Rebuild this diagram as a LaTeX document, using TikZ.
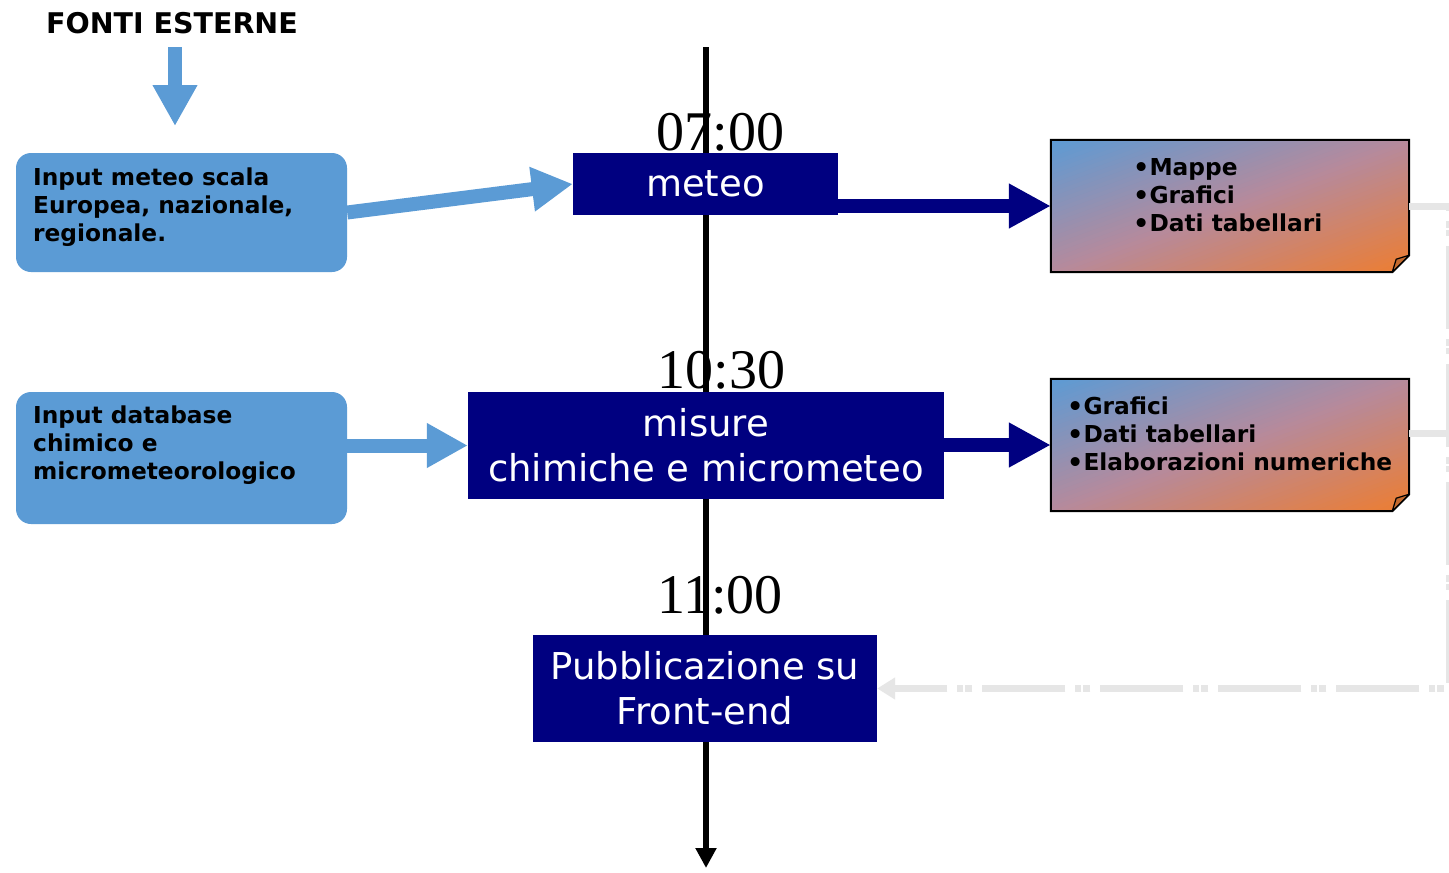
\documentclass[tikz,border=0pt]{standalone}
\usepackage{fontspec}
\setmainfont{DejaVu Sans}
\newfontfamily\timefont{Liberation Serif}
\usetikzlibrary{arrows.meta,calc}
\definecolor{lblue}{HTML}{5B9BD5}
\definecolor{navy}{HTML}{000080}
\definecolor{orng}{HTML}{ED7D31}
\definecolor{mauve}{HTML}{B68A9C}
\definecolor{lgray}{HTML}{E6E6E6}
\definecolor{fold}{HTML}{C46A2E}
\newcommand\bul{\raisebox{-1pt}{\fontsize{25.5}{28}\selectfont•}}
\begin{document}
\begin{tikzpicture}[x=1pt,y=-1pt,
  inbox/.style={fill=lblue, rounded corners=15pt, inner sep=0pt, draw=none},
  intext/.style={anchor=north west, align=left, inner sep=0pt, font=\bfseries\fontsize{23.3}{28}\selectfont},
  navybox/.style={fill=navy, text=white, inner sep=0pt, align=center, font=\fontsize{37}{45}\selectfont},
  timelbl/.style={anchor=base, inner sep=0pt, font=\timefont\fontsize{56}{60}\selectfont},
  notebox/.style={inner sep=0pt, minimum width=358pt, minimum height=132pt},
  notetext/.style={anchor=north west, align=left, inner sep=0pt, font=\bfseries\fontsize{23.3}{28}\selectfont},
  blockblue/.style={draw=lblue, line width=14pt, -{Triangle[width=42pt,length=41pt]}},
  blocknavy/.style={draw=navy, line width=14pt, -{Triangle[width=42pt,length=42pt]}},
  feedback/.style={draw=lgray, line width=7pt, dash pattern=on 83pt off 10pt on 7pt off 2pt on 6pt off 10pt, dash phase=38pt},
]
\useasboundingbox[fill=white] (0,0) rectangle (1449,873);

% title and entry arrow
\node[anchor=base, inner sep=0pt, font=\bfseries\fontsize{28.5}{32}\selectfont] (title) at (172,33) {FONTI ESTERNE};
\coordinate (srcA) at (175,47);
\coordinate (srcB) at (175,126);
\draw[blockblue] (srcA) -- (srcB);

% input boxes
\node[inbox, minimum width=331pt, minimum height=119pt] (b1) at (181.5,212.5) {};
\node[intext] (b1t) at (33,167.5) {Input meteo scala\\Europea, nazionale,\\regionale.};
\node[inbox, minimum width=331pt, minimum height=132pt] (b2) at (181.5,458) {};
\node[intext] (b2t) at (33,405.5) {Input database\\chimico e\\micrometeorologico};

% time labels
\node[timelbl] (t1) at (720.5,150) {07:00};
\node[timelbl] (t2) at (721.5,388) {10:30};
\node[timelbl] (t3) at (720,613) {11:00};

% timeline
\coordinate (tl0) at (706,47);
\coordinate (tl1) at (706,868);
\draw[line width=6pt, -{Triangle[width=20pt,length=20pt]}] (tl0) -- (tl1);

% navy boxes
\node[navybox, minimum width=265pt, minimum height=62pt] (meteo) at (705.5,184) {meteo};
\node[navybox, minimum width=476pt, minimum height=107pt] (misure) at (706,445.5) {misure\\chimiche e micrometeo};
\node[navybox, minimum width=344pt, minimum height=107pt] (pub) at (705,688.5) {Pubblicazione su\\Front-end};

% notes
\node[notebox] (n1) at (1230,206) {};
\node[notebox] (n2) at (1230,445) {};
\foreach \n in {n1,n2}{
  \begin{scope}
    \clip (\n.north west) -- (\n.north east) -- ([yshift=17pt]\n.south east) -- ([xshift=-17pt]\n.south east) -- (\n.south west) -- cycle;
    \foreach \i in {0,...,59}{
      \pgfmathsetmacro\sa{2*\i/60}
      \pgfmathsetmacro\sb{2*(\i+1.4)/60}
      \pgfmathsetmacro\pc{(\i+0.5)*100/60}
      \ifdim\pc pt<50pt
        \pgfmathsetmacro\q{2*\pc}\edef\col{mauve!\q!lblue}
      \else
        \pgfmathsetmacro\q{2*\pc-100}\edef\col{orng!\q!mauve}
      \fi
      \fill[fill=\col] ($(\n.north west)!\sa!(\n.north east)$) -- ($(\n.north west)!\sb!(\n.north east)$)
        -- ($(\n.north west)!\sb!(\n.south west)$) -- ($(\n.north west)!\sa!(\n.south west)$) -- cycle;
    }
  \end{scope}
  \draw[black, line width=2pt]
    (\n.north west) -- (\n.north east) -- ([yshift=17pt]\n.south east) -- ([xshift=-17pt]\n.south east) -- (\n.south west) -- cycle;
  \filldraw[fill=fold, draw=black, line width=1.2pt, line join=round]
    ([xshift=-17pt]\n.south east) -- ([xshift=-13pt,yshift=13pt]\n.south east) -- ([yshift=17pt]\n.south east) -- cycle;
}
\node[notetext] (n1t) at (1133,158) {\bul Mappe\\\bul Grafici\\\bul Dati tabellari};
\node[notetext] (n2t) at (1067,397) {\bul Grafici\\\bul Dati tabellari\\\bul Elaborazioni numeriche};

% connectors
\draw[blockblue] (b1.east) -- (meteo.west);
\draw[blockblue] (b2.east |- misure.west) -- (misure.west);
\draw[blocknavy] (meteo.east |- n1.west) -- (n1.west);
\draw[blocknavy] (misure.east |- n2.west) -- (n2.west);

% feedback
\coordinate (fbtop) at (1449,206);
\coordinate (n2out) at ([yshift=12pt]n2.east);
\draw[feedback, -{Triangle[width=21pt,length=18pt]}] (n1.east) -- (fbtop) |- (pub.east);
\draw[feedback] (n2out) -- (n2out -| fbtop);
\end{tikzpicture}
\end{document}
